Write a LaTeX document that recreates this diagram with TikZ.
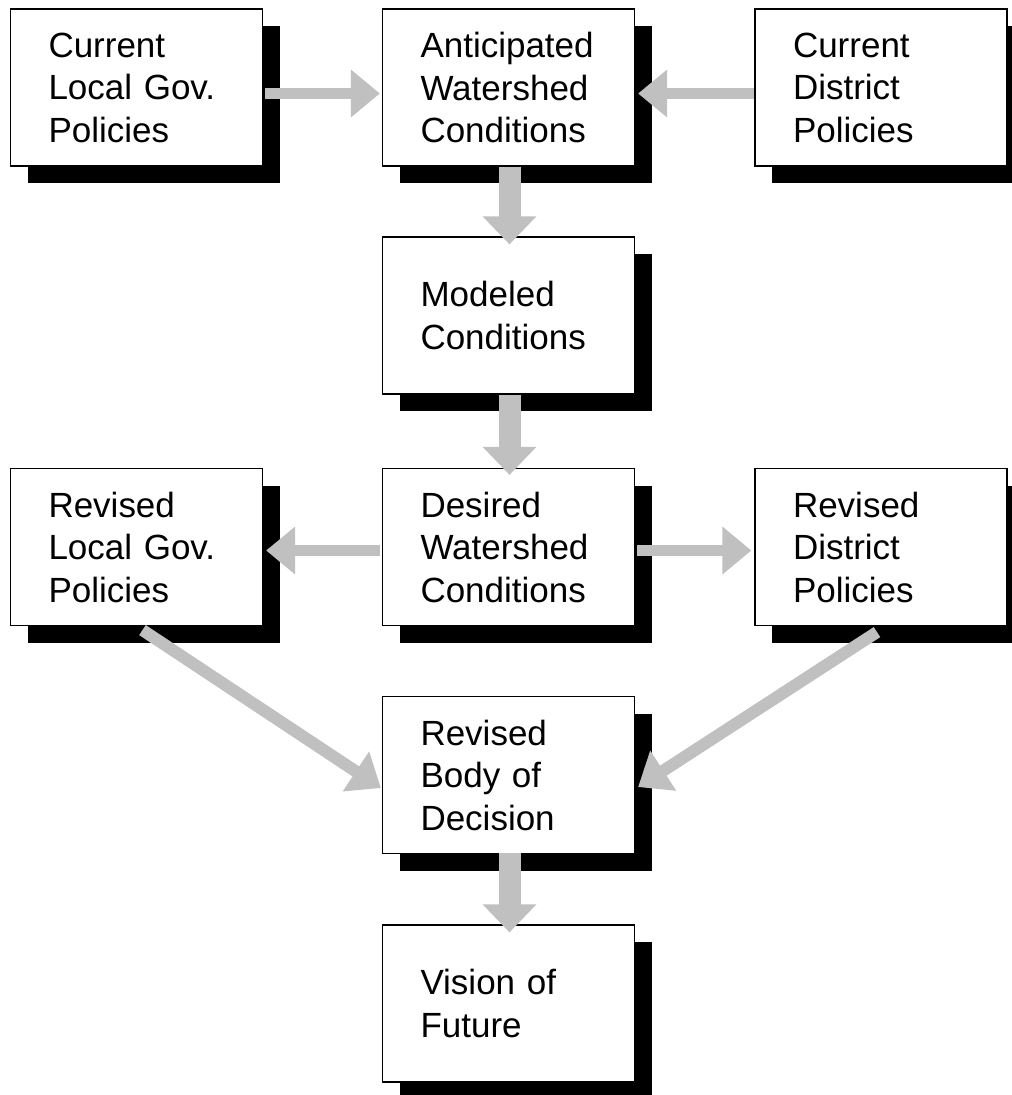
\documentclass[tikz,border=0pt]{standalone}
\usepackage{fontspec}
\setmainfont{Liberation Sans}
\usetikzlibrary{arrows.meta,shadows}
\definecolor{arrowGray}{HTML}{C0C0C0}
\begin{document}
\begin{tikzpicture}[x=1pt, y=-1pt,
	box/.style={rectangle, draw=black, line width=1.2pt, fill=white, minimum width=252pt, minimum height=157pt, text width=176pt, inner xsep=38pt, inner ysep=0pt, align=left, font=\fontsize{35}{42.5}\selectfont, drop shadow={shadow xshift=17pt, shadow yshift=-17pt, fill=black, opacity=1}},
	flatArrow/.style={draw=arrowGray, line width=11pt, -{Triangle[length=29pt, width=46pt]}},
	tallArrow/.style={draw=arrowGray, line width=22pt, -{Triangle[length=28pt, width=52pt]}},
	slantArrow/.style={draw=arrowGray, line width=12pt, -{Triangle[length=30pt, width=46pt]}}]
	\useasboundingbox (0,0) rectangle (1012,1095);

	\node[box](curLocal) at (136.5,87.5){Current\\Local Gov.\\Policies};
	\node[box](antWater) at (508.5,87.5){Anticipated\\Watershed\\Conditions};
	\node[box](curDistrict) at (881,87.5){Current\\District\\Policies};

	\node[box](modCond) at (508.5,315.5){Modeled\\Conditions};

	\node[box](revLocal) at (136.5,547){Revised\\Local Gov.\\Policies};
	\node[box](desWater) at (508.5,547){Desired\\Watershed\\Conditions};
	\node[box](revDistrict) at (881,547){Revised\\District\\Policies};

	\node[box](decBody) at (508.5,775){Revised\\Body of\\Decision};
	\node[box](vision) at (508.5,1003.5){Vision of\\Future};


	\draw[flatArrow]([xshift=2pt, yshift=-6pt]curLocal.east) -- ([xshift=-2pt, yshift=-6pt]antWater.west);
	\draw[flatArrow]([yshift=-6pt]curDistrict.west) -- ([xshift=3pt, yshift=-6pt]antWater.east);
	\draw[tallArrow]([xshift=1pt]antWater.south) -- ([xshift=1pt, yshift=-8pt]modCond.north);
	\draw[tallArrow]([xshift=1pt]modCond.south) -- ([xshift=1pt, yshift=-7pt]desWater.north);

	\draw[flatArrow]([xshift=-2pt, yshift=-3.5pt]desWater.west) -- ([xshift=3pt, yshift=-3.5pt]revLocal.east);
	\draw[flatArrow]([xshift=2pt, yshift=-3.5pt]desWater.east) -- ([xshift=-3pt, yshift=-3.5pt]revDistrict.west);

	\draw[slantArrow]([xshift=6pt, yshift=-4pt]revLocal.south) -- ([xshift=-1pt, yshift=-13pt]decBody.west);
	\draw[slantArrow]([xshift=-4pt, yshift=-6pt]revDistrict.south) -- ([xshift=3pt, yshift=-12pt]decBody.east);
	\draw[tallArrow]([xshift=1pt, yshift=1pt]decBody.south) -- ([xshift=1pt, yshift=-8pt]vision.north);

\end{tikzpicture}
\end{document}
